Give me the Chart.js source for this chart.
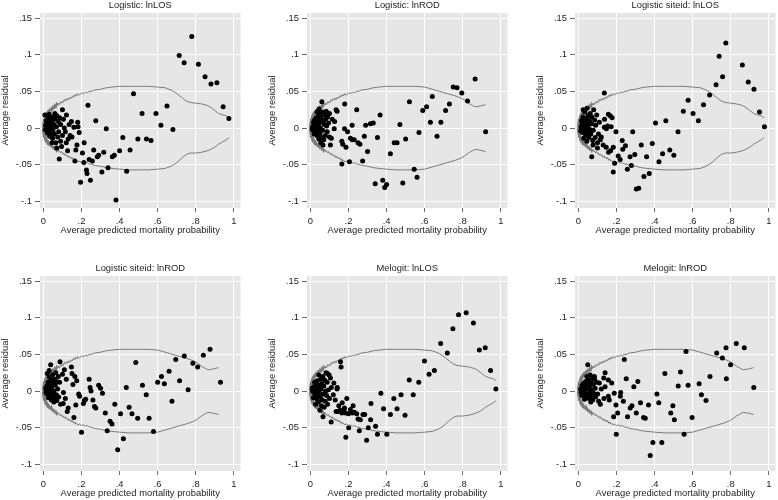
<!DOCTYPE html>
<html>
<head>
<meta charset="utf-8">
<script src="https://cdn.jsdelivr.net/npm/chart.js@4.4.1/dist/chart.umd.min.js"></script>
<style>
  html, body { margin: 0; padding: 0; background: #fff; width: 778px; height: 500px; overflow: hidden; }
  canvas { position: absolute; }
</style>
</head>
<body>
<canvas id="c1" width="243" height="236" style="left:0;top:0"></canvas>
<canvas id="c2" width="243" height="236" style="left:267px;top:0"></canvas>
<canvas id="c3" width="243" height="236" style="left:535px;top:0"></canvas>
<canvas id="c4" width="243" height="236" style="left:0;top:263px"></canvas>
<canvas id="c5" width="243" height="236" style="left:267px;top:263px"></canvas>
<canvas id="c6" width="243" height="236" style="left:535px;top:263px"></canvas>
<script>
'use strict';

var panelTitles = ['Logistic: lnLOS', 'Logistic: lnROD', 'Logistic siteid: lnLOS',
                   'Logistic siteid: lnROD', 'Melogit: lnLOS', 'Melogit: lnROD'];
var xTitle = 'Average predicted mortality probability';
var yTitle = 'Average residual';
var xTickValues = [0, 0.2, 0.4, 0.6, 0.8, 1];
var xTickLabels = ['0', '.2', '.4', '.6', '.8', '1'];
var yTickValues = [-0.1, -0.05, 0, 0.05, 0.1, 0.15];
var yTickLabels = ['-.1', '-.05', '0', '.05', '.1', '.15'];

// band: jagged start shared by every panel
var bandUpperStart = [
  [0.000,0.000],[0.002,0.006],[0.001,0.004],[0.004,0.009],[0.003,0.007],[0.006,0.012],[0.005,0.010],
  [0.009,0.014],[0.008,0.012],[0.013,0.017],[0.011,0.015],[0.017,0.019],[0.015,0.018],[0.022,0.021],
  [0.020,0.020],[0.028,0.023],[0.026,0.022],[0.034,0.025],[0.032,0.024],[0.040,0.027],[0.045,0.026],
  [0.050,0.029],[0.055,0.027],[0.060,0.031],[0.065,0.029],[0.070,0.033],[0.075,0.031],[0.080,0.034],
  [0.085,0.032],[0.090,0.036],[0.095,0.034],[0.100,0.037],[0.105,0.035],[0.110,0.039],[0.115,0.037],
  [0.120,0.040],[0.125,0.038],[0.130,0.041],[0.135,0.039],[0.140,0.042],[0.145,0.041],[0.150,0.043],
  [0.155,0.042],[0.160,0.045],[0.165,0.043],[0.170,0.046],[0.175,0.044],[0.180,0.047],[0.190,0.045],
  [0.200,0.048],[0.210,0.047],[0.220,0.049],[0.230,0.048],[0.240,0.050],[0.250,0.050],[0.270,0.052],
  [0.300,0.053],[0.330,0.055],[0.360,0.056],[0.400,0.057],[0.450,0.057],[0.500,0.057],[0.550,0.057]
];
var bandLowerStart = [
  [0.000,0.000],[0.002,-0.006],[0.001,-0.004],[0.004,-0.009],[0.003,-0.007],[0.006,-0.011],[0.005,-0.009],
  [0.009,-0.013],[0.008,-0.011],[0.013,-0.015],[0.011,-0.014],[0.017,-0.017],[0.015,-0.016],[0.022,-0.019],
  [0.020,-0.018],[0.028,-0.021],[0.026,-0.020],[0.034,-0.023],[0.032,-0.022],[0.040,-0.025],[0.045,-0.024],
  [0.050,-0.027],[0.055,-0.026],[0.060,-0.029],[0.065,-0.028],[0.070,-0.031],[0.075,-0.029],[0.080,-0.032],
  [0.085,-0.031],[0.090,-0.034],[0.095,-0.032],[0.100,-0.035],[0.105,-0.034],[0.110,-0.037],[0.115,-0.035],
  [0.120,-0.038],[0.125,-0.037],[0.130,-0.040],[0.135,-0.038],[0.140,-0.041],[0.145,-0.040],[0.150,-0.042],
  [0.155,-0.041],[0.160,-0.044],[0.165,-0.042],[0.170,-0.045],[0.175,-0.044],[0.180,-0.046],[0.190,-0.045],
  [0.200,-0.047],[0.210,-0.046],[0.220,-0.048],[0.230,-0.047],[0.240,-0.049],[0.250,-0.049],[0.270,-0.051],
  [0.300,-0.052],[0.330,-0.054],[0.360,-0.055],[0.400,-0.056],[0.450,-0.057],[0.500,-0.057],[0.550,-0.057]
];
var bandUpperTailLOS = [[0.600,0.056],[0.640,0.055],[0.670,0.052],[0.690,0.049],[0.710,0.045],[0.730,0.041],
  [0.750,0.037],[0.770,0.035],[0.800,0.034],[0.830,0.033],[0.860,0.031],[0.880,0.028],[0.900,0.024],
  [0.920,0.020],[0.940,0.018],[0.960,0.017],[0.975,0.014]];
var bandLowerTailLOS = [[0.600,-0.056],[0.640,-0.055],[0.670,-0.052],[0.690,-0.049],[0.710,-0.045],[0.730,-0.040],
  [0.750,-0.036],[0.770,-0.034],[0.800,-0.034],[0.830,-0.033],[0.860,-0.031],[0.880,-0.029],[0.900,-0.026],
  [0.920,-0.022],[0.940,-0.019],[0.960,-0.016],[0.975,-0.013]];
var bandUpperTailROD = [[0.600,0.056],[0.640,0.053],[0.680,0.050],[0.720,0.047],[0.760,0.044],[0.790,0.041],
  [0.810,0.038],[0.830,0.034],[0.850,0.031],[0.865,0.029],[0.890,0.030],[0.920,0.032]];
var bandLowerTailROD = [[0.600,-0.056],[0.640,-0.053],[0.680,-0.050],[0.720,-0.047],[0.760,-0.044],[0.790,-0.041],
  [0.810,-0.038],[0.830,-0.034],[0.850,-0.031],[0.865,-0.029],[0.890,-0.030],[0.920,-0.032]];

var ptsLogLOS = [
  [.779,.125],[.713,.099],[.739,.089],[.814,.087],[.849,.070],[.880,.060],[.911,.062],[.944,.029],[.974,.013],
  [.473,.047],[.518,.020],[.591,.020],[.617,.004],[.649,.030],[.680,-.002],[.496,-.015],[.541,-.015],[.565,-.017],
  [.417,-.013],[.455,-.030],[.400,-.031],[.381,-.098],[.437,-.059],[.339,-.054],[.307,-.060],[.317,-.033],
  [.290,-.037],[.283,-.039],[.264,-.030],[.362,-.039],[.372,-.037],[.330,-.001],[.275,.010],[.234,.031],
  [.195,-.074],[.247,-.071],[.229,-.062],[.226,-.057],[.212,-.047],[.257,-.045],[.240,-.043],[.205,-.034],
  [.214,-.020],[.165,-.045],[.170,-.030],[.176,-.023],[.188,-.006],[.182,.002],[.180,.008],[.083,-.042],
  [.127,-.031],[.121,.018],[.147,.009],
  [.16,.001],[.15,-.012],[.14,-.010],[.135,.005],[.13,-.015],[.12,-.020],[.115,-.005],[.11,.000],[.105,.012],
  [.10,-.010],[.095,-.025],[.09,.005],[.09,-.018],[.085,.014],[.08,-.005],[.078,.009],[.075,-.012],[.07,.017],
  [.068,.002],[.065,-.020],[.06,.012],[.058,-.008],[.055,.005],[.05,-.003],[.05,.015],[.048,-.014],[.045,.008],
  [.042,.000],[.04,-.008],[.038,.012],[.035,.004],[.033,-.011],[.03,.008],[.028,-.004],[.026,.015],[.025,.002],
  [.022,-.007],[.02,.006],[.018,.000],[.016,-.003],[.015,.010],[.012,.004],[.01,-.002],[.008,.018],[.03,.019],
  [.045,-.020],[.07,-.027],[.10,.025],[.06,.020]
];
var ptsLogROD = [
  [.865,.067],[.75,.056],[.77,.055],[.795,.048],[.825,.037],[.92,-.005],[.73,.033],[.71,.024],[.685,.008],
  [.665,-.011],[.64,.043],[.63,.008],[.61,.029],[.59,.024],[.57,-.006],[.52,.036],[.50,-.015],[.47,.005],
  [.44,-.020],[.455,-.020],[.42,-.035],[.545,-.056],[.56,-.067],[.485,-.075],[.40,-.077],[.39,-.081],
  [.38,-.071],[.34,-.076],[.366,.018],[.352,-.013],[.33,.007],[.315,.006],[.29,.004],[.30,-.032],[.283,-.011],
  [.274,-.045],[.26,-.022],[.25,-.020],[.243,.025],[.23,-.016],[.22,-.016],[.21,-.014],[.219,.004],[.205,-.046],
  [.195,-.005],[.18,.033],[.179,-.001],[.187,-.026],[.17,-.022],[.165,-.018],[.165,-.049],[.14,.023],[.135,.025],
  [.127,.009],[.125,-.001],[.115,.012],[.11,-.014],[.105,-.023],[.10,-.012],[.10,.020],[.095,.007],[.083,.023],
  [.066,-.023],[.06,.036],
  [.09,.015],[.088,-.005],[.085,.003],[.08,.012],[.078,-.010],[.075,.018],[.072,.005],[.07,-.016],[.068,.010],
  [.065,-.003],[.062,.022],[.06,.008],[.058,-.012],[.055,.015],[.052,.000],[.05,-.007],[.048,.020],[.046,.011],
  [.044,-.015],[.042,.004],[.04,.016],[.038,-.004],[.036,.009],[.034,-.010],[.032,.001],[.03,.014],[.028,-.006],
  [.026,.006],[.024,-.001],[.022,.011],[.02,-.008],[.018,.003],[.016,.008],[.014,-.003],[.012,.002],[.01,-.001],
  [.045,.026],[.055,-.020],[.035,.022]
];
var ptsSiteLOS = [
  [.774,.116],[.739,.098],[.861,.086],[.892,.063],[.922,.053],[.951,.022],[.977,.002],[.757,.070],[.723,.059],
  [.689,.045],[.657,.032],[.630,.010],[.602,.020],[.576,.038],[.551,.023],[.523,-.005],[.459,.010],[.405,.007],
  [.501,-.037],[.480,-.030],[.442,-.035],[.423,-.046],[.388,-.021],[.358,-.039],[.372,-.062],[.344,-.066],
  [.330,-.023],[.317,-.082],[.304,-.083],[.296,-.036],[.285,-.005],[.271,-.039],[.278,-.051],[.257,-.056],
  [.247,-.024],[.233,-.029],[.230,-.017],[.219,-.043],[.209,-.038],[.197,-.005],[.190,-.048],[.183,-.060],
  [.183,-.026],[.136,.048],[.157,.019],[.167,.017],[.177,.014],[.136,.001],[.153,.003],[.146,-.026],
  [.158,-.033],[.169,-.031],[.070,-.039],
  [.12,-.012],[.115,-.016],[.11,.008],[.105,-.008],[.10,-.020],[.096,.018],[.09,.004],[.088,-.013],[.085,.011],
  [.08,.025],[.078,-.003],[.075,-.017],[.07,.015],[.068,.006],[.065,-.008],[.062,.020],[.06,-.002],[.058,.010],
  [.055,-.013],[.052,.004],[.05,.017],[.048,-.006],[.046,.009],[.044,-.018],[.042,.000],[.04,.013],[.038,-.010],
  [.036,.005],[.034,.022],[.032,-.004],[.03,.009],[.028,-.014],[.026,.002],[.024,.015],[.022,-.006],[.02,.006],
  [.018,-.002],[.016,.010],[.014,.002],[.012,-.004],[.137,.012],[.172,.002],[.147,-.001],[.077,-.023],
  [.13,-.023],[.10,-.027],[.025,.025],[.045,.027]
];
var ptsSiteROD = [
  [.93,.012],[.875,.057],[.84,.049],[.785,.038],[.81,.033],[.74,.048],[.695,.043],[.715,.014],[.76,.002],
  [.675,-.014],[.66,.027],[.635,.010],[.62,.020],[.60,.012],[.578,-.055],[.555,-.037],[.54,-.005],[.52,.008],
  [.495,-.037],[.485,.039],[.465,-.031],[.45,-.022],[.435,.005],[.42,-.065],[.405,-.031],[.39,-.080],
  [.375,-.018],[.36,-.045],[.35,-.041],[.335,-.054],[.325,-.030],[.31,-.003],[.30,.004],[.29,.008],[.275,-.023],
  [.268,-.021],[.26,-.012],[.25,.000],[.245,.005],[.24,.016],[.222,-.011],[.215,-.013],[.21,-.017],[.20,-.056],
  [.19,-.007],[.185,-.004],[.175,.014],[.17,-.019],[.165,.020],[.16,-.036],[.155,.009],[.15,.024],[.147,.033],
  [.13,-.023],[.125,-.028],[.12,.016],[.115,-.010],[.11,.029],[.105,-.002],[.10,.023],[.09,-.018],[.087,.040],
  [.038,.036],[.104,-.017],[.07,-.013],
  [.085,.012],[.08,-.008],[.078,.020],[.075,.003],[.07,.013],[.068,-.005],[.065,.025],[.062,.008],[.06,-.010],
  [.058,.016],[.055,.000],[.052,-.006],[.05,.011],[.048,.022],[.046,-.003],[.044,.006],[.042,-.012],[.04,.015],
  [.038,.002],[.036,-.007],[.034,.009],[.032,.019],[.03,-.002],[.028,.005],[.026,-.009],[.024,.012],[.022,.001],
  [.02,-.004],[.018,.007],[.016,.000],[.014,-.002],[.012,.004],[.03,.028],[.055,-.015],[.02,.024]
];
var ptsMeLOS = [
  [.818,.107],[.778,.104],[.856,.093],[.748,.085],[.684,.065],[.719,.052],[.887,.056],[.918,.059],[.946,.028],
  [.974,.003],[.599,.041],[.651,.028],[.623,.023],[.569,.012],[.519,.015],[.540,-.005],[.476,-.005],[.455,-.024],
  [.438,-.010],[.420,-.032],[.497,-.033],[.401,-.059],[.370,-.003],[.384,-.024],[.352,-.059],[.342,-.048],
  [.318,-.017],[.316,-.039],[.295,-.067],[.304,-.050],[.285,-.032],[.276,-.032],[.262,-.039],[.257,-.054],
  [.243,-.031],[.224,-.020],[.231,-.029],[.201,-.050],[.186,-.063],[.191,-.010],[.200,-.031],[.179,-.023],
  [.167,-.016],[.158,.040],[.161,.033],[.141,.005],[.149,-.020],[.135,-.028],[.109,-.042],[.066,-.035],
  [.123,.011],[.12,-.005],[.145,-.028],[.155,-.026],[.165,-.030],[.175,-.025],[.185,-.030],[.14,.003],
  [.13,-.012],[.21,-.025],[.22,-.030],[.25,-.038],
  [.11,.005],[.105,.018],[.10,-.010],[.098,.022],[.095,.002],[.09,-.018],[.088,.012],[.085,-.006],[.082,.025],
  [.08,.000],[.078,-.014],[.075,.015],[.072,-.022],[.07,.007],[.068,-.004],[.065,.020],[.062,-.012],[.06,.010],
  [.058,-.020],[.056,.003],[.054,.016],[.052,-.008],[.05,-.026],[.048,.008],[.046,-.002],[.044,.022],
  [.042,-.015],[.04,.005],[.038,-.006],[.036,.014],[.034,-.011],[.032,.000],[.03,.009],[.028,-.018],[.026,.004],
  [.024,-.005],[.022,.012],[.02,-.002],[.018,.006],[.016,-.009],[.014,.002],[.012,.000],[.01,.004],[.089,.024]
];
var ptsMeROD = [
  [.829,.065],[.871,.059],[.775,.059],[.726,.052],[.756,.045],[.799,.036],[.777,.017],[.921,.005],[.691,.020],
  [.646,-.005],[.670,-.013],[.634,.010],[.576,.008],[.565,.054],[.536,.026],[.524,.007],[.597,-.036],[.555,-.059],
  [.454,.024],[.496,-.020],[.485,-.030],[.504,-.039],[.438,-.070],[.391,-.070],[.377,-.088],[.412,-.004],
  [.422,-.016],[.368,-.019],[.342,-.036],[.351,-.037],[.326,-.016],[.312,.013],[.291,.006],[.304,-.030],
  [.281,-.020],[.272,-.023],[.251,.017],[.258,-.035],[.241,.043],[.236,-.014],[.222,-.002],[.220,-.007],
  [.199,-.059],[.206,-.030],[.197,-.019],[.188,-.003],[.185,-.035],[.175,.011],[.157,.015],[.140,.025],
  [.133,.018],[.140,.006],[.162,-.012],[.157,-.007],[.134,-.010],[.101,-.004],[.106,-.014],[.115,-.018],
  [.084,.020],[.049,.036],
  [.095,.012],[.09,-.008],[.088,.004],[.085,.016],[.08,-.003],[.078,.009],[.075,-.012],[.072,.018],[.07,.002],
  [.068,-.006],[.065,.013],[.062,.022],[.06,-.002],[.058,.007],[.055,-.010],[.052,.015],[.05,.003],[.048,-.005],
  [.046,.010],[.044,.020],[.042,-.008],[.04,.005],[.038,.013],[.036,-.003],[.034,.008],[.032,-.011],[.03,.001],
  [.028,.011],[.026,-.004],[.024,.005],[.022,-.001],[.02,.008],[.018,-.006],[.016,.002],[.014,-.002],[.012,.003],
  [.11,.011],[.12,.003],[.065,-.015]
];

var FONT = '"Liberation Sans", Arial, sans-serif';
var TEXT = '#1e1e1e';

function toXY(arr) {
  return arr.map(function(p) { return { x: p[0], y: p[1] }; });
}

// near zero the band is a bundle of overlapping lines, so draw it heavier there
function bandWidth(ctx) {
  var x = ctx.p0.parsed.x;
  if (x < 0.03) return 3;
  if (x < 0.075) return 2;
  return 1;
}

// gray plot region + panel title
var panelDecor = {
  id: 'panelDecor',
  beforeDraw: function(chart) {
    var a = chart.chartArea, ctx = chart.ctx;
    ctx.save();
    ctx.fillStyle = '#e6e6e6';
    ctx.fillRect(a.left, a.top, a.right - a.left, a.bottom - a.top);
    ctx.restore();
  },
  afterDraw: function(chart) {
    var a = chart.chartArea, ctx = chart.ctx;
    ctx.save();
    ctx.font = '9.4px ' + FONT;
    ctx.fillStyle = TEXT;
    ctx.textAlign = 'center';
    ctx.textBaseline = 'middle';
    ctx.fillText(chart.options.plugins.panelDecor.text, (a.left + a.right) / 2, a.top - 8);
    ctx.restore();
  }
};

function makePanel(id, title, pts, upper, lower) {
  var bandStyle = { showLine: true, pointRadius: 0, borderColor: '#7c7c7c', borderWidth: 1, tension: 0,
                    segment: { borderWidth: bandWidth } };
  return new Chart(document.getElementById(id).getContext('2d'), {
    type: 'scatter',
    data: {
      datasets: [
        { data: toXY(pts), showLine: false, pointRadius: 2.5, pointHoverRadius: 2.5,
          backgroundColor: '#000', borderWidth: 0 },
        Object.assign({ data: toXY(upper) }, bandStyle),
        Object.assign({ data: toXY(lower) }, bandStyle)
      ]
    },
    options: {
      responsive: false,
      animation: false,
      events: [],
      layout: { padding: { top: 13, right: 1, bottom: 0, left: 0 } },
      plugins: {
        legend: { display: false },
        tooltip: { enabled: false },
        panelDecor: { text: title }
      },
      scales: {
        x: {
          type: 'linear', min: -0.018, max: 1.035,
          afterBuildTicks: function(s) { s.ticks = xTickValues.map(function(v) { return { value: v }; }); },
          afterFit: function(s) { s.height = 28; },
          ticks: { padding: 3.4, maxRotation: 0, autoSkip: false, color: TEXT,
                   font: { family: FONT, size: 9.4, lineHeight: 1.2 },
                   callback: function(v, i) { return xTickLabels[i]; } },
          grid: { color: '#ffffff', lineWidth: 1, tickColor: '#6a6a6a', tickLength: 4 },
          border: { display: false },
          title: { display: true, text: xTitle, color: TEXT, padding: 0,
                   font: { family: FONT, size: 9.4, lineHeight: 1.2 } }
        },
        y: {
          type: 'linear', min: -0.109, max: 0.157,
          afterBuildTicks: function(s) { s.ticks = yTickValues.map(function(v) { return { value: v }; }); },
          afterFit: function(s) { s.width = 40; },
          ticks: { padding: 3, autoSkip: false, color: TEXT,
                   font: { family: FONT, size: 9.4, lineHeight: 1.2 },
                   callback: function(v, i) { return yTickLabels[i]; } },
          grid: { color: '#ffffff', lineWidth: 1, tickColor: '#6a6a6a', tickLength: 5 },
          border: { display: false },
          title: { display: true, text: yTitle, color: TEXT, padding: 0,
                   font: { family: FONT, size: 9.4, lineHeight: 1.2 } }
        }
      }
    },
    plugins: [panelDecor]
  });
}

var upperLOS = bandUpperStart.concat(bandUpperTailLOS);
var lowerLOS = bandLowerStart.concat(bandLowerTailLOS);
var upperROD = bandUpperStart.concat(bandUpperTailROD);
var lowerROD = bandLowerStart.concat(bandLowerTailROD);

makePanel('c1', panelTitles[0], ptsLogLOS,  upperLOS, lowerLOS);
makePanel('c2', panelTitles[1], ptsLogROD,  upperROD, lowerROD);
makePanel('c3', panelTitles[2], ptsSiteLOS, upperLOS, lowerLOS);
makePanel('c4', panelTitles[3], ptsSiteROD, upperROD, lowerROD);
makePanel('c5', panelTitles[4], ptsMeLOS,   upperLOS, lowerLOS);
makePanel('c6', panelTitles[5], ptsMeROD,   upperROD, lowerROD);
</script>
</body>
</html>
